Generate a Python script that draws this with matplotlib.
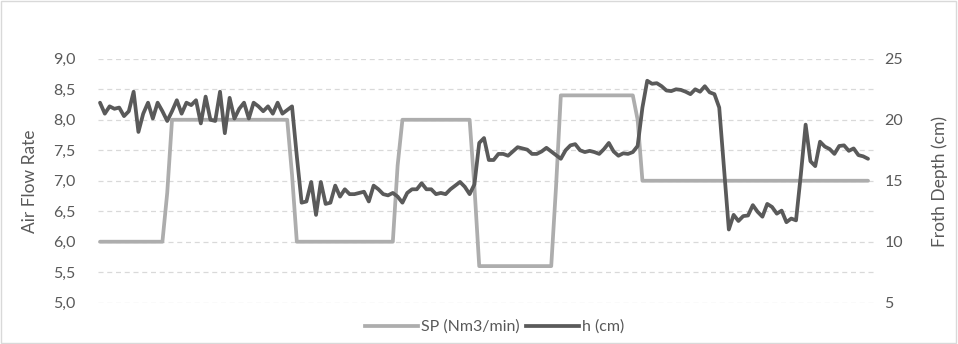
import matplotlib
matplotlib.use("Agg")
import matplotlib.pyplot as plt
from matplotlib.ticker import FuncFormatter, FixedLocator
from matplotlib.lines import Line2D
from matplotlib.patches import Rectangle
import numpy as np

plt.rcParams['font.family'] = ['Lato', 'DejaVu Sans']

# Air flow set point (Nm3/min), one value per sample
sp_flow = [
    6.0, 6.0, 6.0, 6.0, 6.0, 6.0, 6.0, 6.0, 6.0, 6.0,
    6.0, 6.0, 6.0, 6.0, 6.8, 8.0, 8.0, 8.0, 8.0, 8.0,
    8.0, 8.0, 8.0, 8.0, 8.0, 8.0, 8.0, 8.0, 8.0, 8.0,
    8.0, 8.0, 8.0, 8.0, 8.0, 8.0, 8.0, 8.0, 8.0, 8.0,
    7.1, 6.0, 6.0, 6.0, 6.0, 6.0, 6.0, 6.0, 6.0, 6.0,
    6.0, 6.0, 6.0, 6.0, 6.0, 6.0, 6.0, 6.0, 6.0, 6.0,
    6.0, 6.0, 7.25, 8.0, 8.0, 8.0, 8.0, 8.0, 8.0, 8.0,
    8.0, 8.0, 8.0, 8.0, 8.0, 8.0, 8.0, 8.0, 6.9, 5.6,
    5.6, 5.6, 5.6, 5.6, 5.6, 5.6, 5.6, 5.6, 5.6, 5.6,
    5.6, 5.6, 5.6, 5.6, 5.6, 6.9, 8.4, 8.4, 8.4, 8.4,
    8.4, 8.4, 8.4, 8.4, 8.4, 8.4, 8.4, 8.4, 8.4, 8.4,
    8.4, 8.4, 8.0, 7.0, 7.0, 7.0, 7.0, 7.0, 7.0, 7.0,
    7.0, 7.0, 7.0, 7.0, 7.0, 7.0, 7.0, 7.0, 7.0, 7.0,
    7.0, 7.0, 7.0, 7.0, 7.0, 7.0, 7.0, 7.0, 7.0, 7.0,
    7.0, 7.0, 7.0, 7.0, 7.0, 7.0, 7.0, 7.0, 7.0, 7.0,
    7.0, 7.0, 7.0, 7.0, 7.0, 7.0, 7.0, 7.0, 7.0, 7.0,
    7.0,
]

# Measured froth depth h (cm), one value per sample
froth_depth = [
    21.4, 20.5, 21.1, 20.9, 21.0, 20.3, 20.7, 22.3, 19.0, 20.5,
    21.4, 20.1, 21.4, 20.7, 19.9, 20.7, 21.6, 20.5, 21.4, 21.2,
    21.6, 19.7, 21.9, 20.0, 19.9, 22.3, 18.9, 21.8, 20.1, 20.9,
    21.4, 20.1, 21.4, 21.1, 20.7, 21.1, 20.5, 21.4, 20.5, 20.8,
    21.1, 17.0, 13.2, 13.3, 14.9, 12.2, 14.9, 13.1, 13.2, 14.6,
    13.7, 14.3, 13.9, 13.9, 14.0, 14.1, 13.3, 14.6, 14.3, 13.9,
    13.8, 14.0, 13.7, 13.2, 14.0, 14.3, 14.3, 14.8, 14.3, 14.3,
    13.9, 14.0, 13.9, 14.3, 14.6, 14.9, 14.5, 13.9, 14.7, 18.1,
    18.5, 16.7, 16.7, 17.2, 17.2, 17.05, 17.4, 17.75, 17.65, 17.55,
    17.2, 17.2, 17.4, 17.7, 17.4, 17.1, 16.8, 17.5, 17.9, 18.0,
    17.5, 17.35, 17.45, 17.35, 17.2, 17.6, 18.1, 17.4, 17.05, 17.25,
    17.2, 17.35, 17.85, 21.0, 23.2, 22.95, 23.0, 22.75, 22.4, 22.35,
    22.5, 22.45, 22.3, 22.1, 22.5, 22.3, 22.75, 22.25, 22.1, 21.0,
    16.0, 11.0, 12.2, 11.7, 12.1, 12.15, 13.0, 12.45, 12.05, 13.1,
    12.85, 12.3, 12.55, 11.6, 11.9, 11.75, 15.5, 19.6, 16.6, 16.2,
    18.2, 17.8, 17.6, 17.2, 17.85, 17.9, 17.45, 17.65, 17.1, 17.0,
    16.8,
]

flow_ticks = [5.0, 5.5, 6.0, 6.5, 7.0, 7.5, 8.0, 8.5, 9.0]
depth_ticks = [5, 10, 15, 20, 25]

series_labels = ["SP (Nm3/min)", "h (cm)"]
sp_color = "#ADADAD"
h_color = "#5A5A5A"
text_color = "#595959"
grid_color = "#D9D9D9"

sample = np.arange(len(sp_flow))

fig = plt.figure(figsize=(9.58, 3.44), dpi=100)
fig.patch.set_facecolor("white")
fig.patches.append(Rectangle((0.001, 0.002), 0.997, 0.995, transform=fig.transFigure,
                             fill=False, edgecolor=grid_color, linewidth=1.0))

ax = fig.add_axes([0.1019, 0.1201, 0.8117, 0.709])
ax.plot(sample, sp_flow, color=sp_color, linewidth=2.7,
        solid_joinstyle="round", solid_capstyle="round", zorder=3)
ax.set_xlim(-0.5, len(sp_flow) + 0.5)
ax.set_ylim(flow_ticks[0], flow_ticks[-1])
ax.yaxis.set_major_locator(FixedLocator(flow_ticks))
ax.yaxis.set_major_formatter(FuncFormatter(lambda v, _: f"{v:.1f}".replace(".", ",")))
ax.set_xticks([])
ax.yaxis.grid(True, color=grid_color, linestyle=(0, (4, 3)), linewidth=0.9)
ax.set_axisbelow(True)
ax.tick_params(axis="y", length=0, pad=16, labelsize=11.5, labelcolor=text_color)
for s in ax.spines.values():
    s.set_visible(False)

ax2 = ax.twinx()
ax2.plot(sample, froth_depth, color=h_color, linewidth=2.7,
         solid_joinstyle="round", solid_capstyle="round", zorder=4)
ax2.set_ylim(depth_ticks[0], depth_ticks[-1])
ax2.yaxis.set_major_locator(FixedLocator(depth_ticks))
ax2.tick_params(axis="y", length=0, pad=6.5, labelsize=11.5, labelcolor=text_color)
for s in ax2.spines.values():
    s.set_visible(False)

fig.text(30 / 958, 1 - 181 / 344, "Air Flow Rate", rotation=90, ha="center", va="center",
         fontsize=12.5, color=text_color)
fig.text(940 / 958, 1 - 181 / 344, "Froth Depth (cm)", rotation=90, ha="center", va="center",
         fontsize=12.5, color=text_color)

handles = [Line2D([], [], color=sp_color, linewidth=2.7),
           Line2D([], [], color=h_color, linewidth=2.7)]
fig.legend(handles, series_labels, loc="center", bbox_to_anchor=(495 / 958, 1 - 327 / 344),
           ncol=2, frameon=False, handlelength=3.3, handletextpad=0.2, columnspacing=0.4,
           fontsize=11.5, labelcolor=text_color)

fig.savefig("out.png", dpi=100, facecolor="white")
